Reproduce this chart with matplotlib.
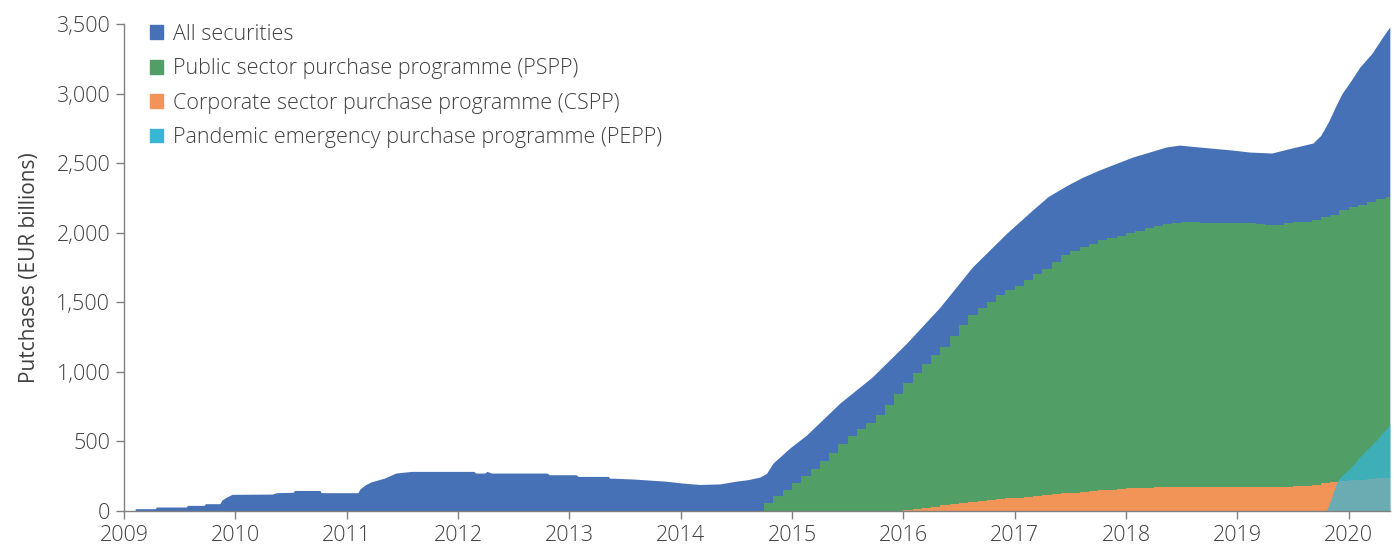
import numpy as np
import matplotlib
matplotlib.use("Agg")
import matplotlib.pyplot as plt
from matplotlib.patches import Patch
from matplotlib.ticker import FuncFormatter

plt.rcParams['font.family'] = ['Open Sans', 'DejaVu Sans']
plt.rcParams['font.weight'] = 'light'

# All securities (decimal year, EUR bn)
all_x = [2009.10, 2009.28, 2009.29, 2009.56, 2009.57, 2009.72, 2009.73, 2009.86, 2009.88, 2009.92,
         2009.97, 2010.33, 2010.37, 2010.52, 2010.53, 2010.76, 2010.77, 2011.10, 2011.12, 2011.17,
         2011.22, 2011.34, 2011.44, 2011.58, 2012.14, 2012.16, 2012.24, 2012.26, 2012.30, 2012.80,
         2012.82, 2013.06, 2013.08, 2013.35, 2013.36, 2013.58, 2013.86, 2014.02, 2014.17, 2014.35,
         2014.50, 2014.60, 2014.71, 2014.77, 2014.83, 2014.98, 2015.13, 2015.43, 2015.72, 2016.03,
         2016.33, 2016.62, 2016.93, 2017.16, 2017.30, 2017.47, 2017.60, 2017.76, 2018.06, 2018.36,
         2018.48, 2018.66, 2018.96, 2019.11, 2019.31, 2019.49, 2019.68, 2019.75, 2019.82, 2019.89,
         2019.94, 2020.01, 2020.10, 2020.21, 2020.30, 2020.37]
all_y = [17, 17, 29, 29, 41, 41, 53, 53, 80, 100,
         120, 122, 132, 135, 148, 148, 132, 132, 160, 190,
         210, 237, 273, 285, 285, 273, 273, 285, 273, 273,
         261, 261, 249, 249, 237, 230, 215, 201, 191, 195,
         215, 225, 244, 270, 345, 453, 546, 776, 963, 1207,
         1466, 1754, 1998, 2163, 2260, 2340, 2395, 2451, 2544, 2616,
         2630, 2616, 2594, 2580, 2573, 2609, 2645, 2700, 2800, 2920,
         3000, 3080, 3190, 3290, 3400, 3480]

# PSPP, monthly from Oct 2014
pspp_start = 2014.75
pspp = [60, 110, 150, 200, 250, 300, 360, 420, 480, 540, 590, 630,
        690, 760, 840, 920, 990, 1060, 1120, 1180, 1260, 1340, 1410, 1460,
        1500, 1550, 1590, 1620, 1660, 1700, 1740, 1790, 1840, 1870, 1900, 1920,
        1945, 1965, 1980, 2000, 2015, 2035, 2050, 2065, 2070, 2075, 2075, 2070,
        2070, 2070, 2070, 2070, 2070, 2065, 2055, 2055, 2070, 2075, 2080, 2090,
        2110, 2130, 2160, 2185, 2200, 2220, 2240, 2260]

# CSPP, monthly from Jan 2016
cspp_start = 2016.0
cspp = [8, 15, 22, 30, 40, 48, 58, 65, 72, 78, 85, 92,
        97, 104, 110, 116, 122, 128, 133, 138, 143, 148, 153, 158,
        163, 166, 168, 170, 173, 175, 176, 176, 176, 176, 176, 176,
        176, 176, 176, 176, 176, 176, 178, 180, 190, 200, 210, 218,
        222, 226, 230, 235, 240]

# PEPP
pepp_x = [2019.80, 2019.83, 2019.86, 2019.89, 2019.92, 2019.96, 2020.00, 2020.05,
          2020.10, 2020.15, 2020.20, 2020.25, 2020.30, 2020.35, 2020.37]
pepp_y = [0, 60, 130, 200, 240, 270, 300, 340, 390, 430, 470, 510, 560, 600, 625]

end_year = 2020.37
years = list(range(2009, 2021))

c_all = '#4671b7'
c_pspp = '#519f67'
c_cspp = '#f29458'
c_pepp = '#38b5d5'
txt = '#404040'

fig = plt.figure(figsize=(13.94, 5.46), dpi=100)
ax = fig.add_axes([0.089, 0.064, 0.908, 0.892])

ax.fill_between(all_x, 0, all_y, color=c_all, lw=0)

px = pspp_start + np.arange(len(pspp)) / 12
px = np.append(px, end_year)
py = np.append(pspp, pspp[-1])
ax.fill_between(px, 0, py, step='post', color=c_pspp, lw=0)

cx = cspp_start + np.arange(len(cspp)) / 12
cx = np.append(cx, end_year)
cy = np.append(cspp, cspp[-1])
ax.fill_between(cx, 0, cy, step='post', color=c_cspp, lw=0)

ax.fill_between(pepp_x, 0, pepp_y, color=c_pepp, lw=0, alpha=0.73)

ax.set_xlim(2009, end_year)
ax.set_ylim(0, 3500)
ax.set_xticks(years)
ax.set_xticklabels([str(y) for y in years])
ax.set_yticks(np.arange(0, 3501, 500))
ax.yaxis.set_major_formatter(FuncFormatter(lambda v, p: f'{int(v):,}'))

ax.spines[['top', 'right']].set_visible(False)
for s in ['left', 'bottom']:
    ax.spines[s].set_color('#808080')
    ax.spines[s].set_linewidth(1)
ax.tick_params(colors='#808080', labelcolor=txt, labelsize=15.5, length=6, width=1, pad=4)
ax.set_ylabel('Putchases (EUR billions)', fontsize=15, color=txt, labelpad=12)

handles = [Patch(color=c_all), Patch(color=c_pspp), Patch(color=c_cspp), Patch(color=c_pepp)]
labels = ['All securities', 'Public sector purchase programme (PSPP)',
          'Corporate sector purchase programme (CSPP)',
          'Pandemic emergency purchase programme (PEPP)']
leg = ax.legend(handles, labels, loc='upper left', bbox_to_anchor=(0.005, 1.04), frameon=False,
                fontsize=15.5, handlelength=0.6, handleheight=0.6, handletextpad=0.5,
                labelspacing=0.62)
for t in leg.get_texts():
    t.set_color(txt)

fig.savefig('out.png', dpi=100)
